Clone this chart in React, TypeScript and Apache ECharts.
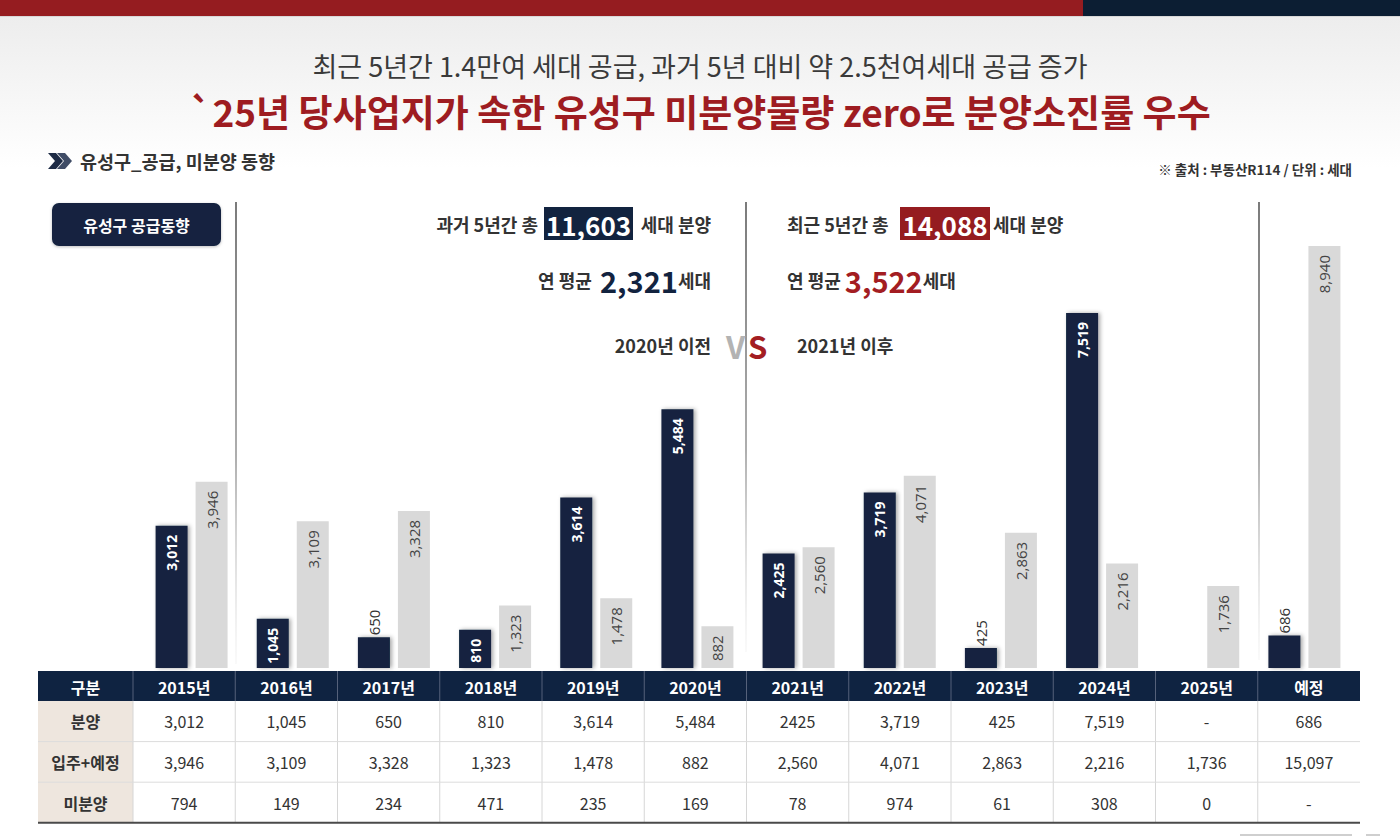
import React, { useEffect, useRef } from 'react';
import * as echarts from 'echarts';

// Yuseong-gu supply trend (units)
const categories = ['2015년', '2016년', '2017년', '2018년', '2019년', '2020년', '2021년', '2022년', '2023년', '2024년', '2025년', '예정'];
const saleValues: (number | null)[] = [3012, 1045, 650, 810, 3614, 5484, 2425, 3719, 425, 7519, null, 686];
const moveInValues: number[] = [3946, 3109, 3328, 1323, 1478, 882, 2560, 4071, 2863, 2216, 1736, 8940];

// Table rows under the chart
const tableHeader = '구분';
const rowNames = ['분양', '입주+예정', '미분양'];
const saleTexts = ['3,012', '1,045', '650', '810', '3,614', '5,484', '2425', '3,719', '425', '7,519', '-', '686'];
const moveInTexts = ['3,946', '3,109', '3,328', '1,323', '1,478', '882', '2,560', '4,071', '2,863', '2,216', '1,736', '15,097'];
const unsoldTexts = ['794', '149', '234', '471', '235', '169', '78', '974', '61', '308', '0', '-'];

// Period summaries
const pastTotal = '11,603';
const recentTotal = '14,088';
const pastAverage = '2,321';
const recentAverage = '3,522';

const KR = "'Noto Sans CJK KR', 'Noto Sans', sans-serif";
const NUM = "'Open Sans', 'Noto Sans', sans-serif";
const NAVY = '#12233f';
const RED = '#9e1c21';
const GRAY_BAR = '#d9d9d9';

const fmt = (v: any) => (v === null || v === undefined || v === '-' ? '' : Number(v).toLocaleString('en-US'));

function txt(text: string, x: number, y: number, align: string, font: string, fill: string) {
  return { type: 'text', style: { text, x, y, align, verticalAlign: 'middle', font, fill } };
}

function buildTable(): any[] {
  const els: any[] = [];
  const left = 38;
  const firstW = 95;
  const colW = 102.25;
  const right = left + firstW + colW * categories.length;
  const headTop = 671;
  const headH = 30;
  const rowH = 40.6;
  const rows = [saleTexts, moveInTexts, unsoldTexts];

  els.push({ type: 'rect', shape: { x: left, y: headTop, width: right - left, height: headH }, style: { fill: '#0f2341' } });
  els.push({ type: 'rect', shape: { x: left, y: headTop + headH, width: firstW, height: rowH * 3 }, style: { fill: '#eee6de' } });
  const headers = [tableHeader, ...categories];
  headers.forEach((h, i) => {
    const x0 = i === 0 ? left : left + firstW + colW * (i - 1);
    const w = i === 0 ? firstW : colW;
    els.push(txt(h, x0 + w / 2, headTop + headH / 2 + 1, 'center', `bold 16px ${KR}`, '#fff'));
    if (i > 0) {
      els.push({ type: 'line', shape: { x1: x0, y1: headTop, x2: x0, y2: headTop + headH }, style: { stroke: '#55617a', lineWidth: 1 } });
      els.push({ type: 'line', shape: { x1: x0, y1: headTop + headH, x2: x0, y2: headTop + headH + rowH * 3 }, style: { stroke: '#d6d6d6', lineWidth: 1 } });
    }
  });
  rows.forEach((texts, r) => {
    const y0 = headTop + headH + rowH * r;
    if (r > 0) {
      els.push({ type: 'line', shape: { x1: left, y1: y0, x2: right, y2: y0 }, style: { stroke: '#dcdcdc', lineWidth: 1 } });
    }
    els.push(txt(rowNames[r], left + firstW / 2, y0 + rowH / 2, 'center', `bold 16px ${KR}`, '#333'));
    texts.forEach((t, i) => {
      els.push(txt(t, left + firstW + colW * i + colW / 2, y0 + rowH / 2, 'center', `16px ${KR}`, '#333'));
    });
  });
  const bottom = headTop + headH + rowH * 3;
  els.push({ type: 'line', shape: { x1: left, y1: bottom, x2: right, y2: bottom }, style: { stroke: '#4a4a4a', lineWidth: 2 } });
  return els;
}

function divider(x: number, y1: number, y2: number) {
  return {
    type: 'rect',
    shape: { x: x - 0.6, y: y1, width: 1.2, height: y2 - y1 },
    style: {
      fill: new echarts.graphic.LinearGradient(0, 0, 0, 1, [
        { offset: 0, color: '#222' },
        { offset: 0.55, color: '#777' },
        { offset: 1, color: 'rgba(210,210,210,0.2)' },
      ]),
    },
  };
}

function buildDecor(): any[] {
  const els: any[] = [];
  els.push({
    type: 'rect', z: -10,
    shape: { x: 0, y: 0, width: 1400, height: 839 },
    style: {
      fill: new echarts.graphic.LinearGradient(0, 0, 0, 1, [
        { offset: 0, color: '#ebebeb' },
        { offset: 0.2, color: '#ffffff' },
        { offset: 1, color: '#ffffff' },
      ]),
    },
  });
  els.push({ type: 'rect', shape: { x: 0, y: 0, width: 1083, height: 16 }, style: { fill: '#951c20' } });
  els.push({ type: 'rect', shape: { x: 1083, y: 0, width: 317, height: 16 }, style: { fill: '#0c1e33' } });
  els.push({ type: 'line', shape: { x1: 0, y1: 16.5, x2: 1400, y2: 16.5 }, style: { stroke: '#d8d8d8', lineWidth: 1 } });

  // headlines
  els.push(txt('최근 5년간 1.4만여 세대 공급, 과거 5년 대비 약 2.5천여세대 공급 증가', 700, 65, 'center', `27px ${KR}`, '#3a3a3a'));
  els.push(txt('`25년 당사업지가 속한 유성구 미분양물량 zero로 분양소진률 우수', 700, 111, 'center', `bold 37px ${KR}`, RED));

  // section heading with chevrons
  els.push({ type: 'polygon', shape: { points: [[48, 153], [56, 153], [63, 161], [56, 169], [48, 169], [55, 161]] }, style: { fill: '#1d2b45' } });
  els.push({ type: 'polygon', shape: { points: [[57, 153], [65, 153], [72, 161], [65, 169], [57, 169], [64, 161]] }, style: { fill: '#3f4c66' } });
  els.push(txt('유성구_공급, 미분양 동향', 80, 161, 'left', `bold 18.5px ${KR}`, '#333'));
  els.push(txt('※ 출처 : 부동산R114 / 단위 : 세대', 1352, 169, 'right', `bold 13.5px ${KR}`, '#333'));

  // badge
  els.push({ type: 'rect', shape: { x: 52, y: 203, width: 169, height: 43, r: 7 }, style: { fill: '#13233f', shadowBlur: 3, shadowColor: 'rgba(0,0,0,0.25)', shadowOffsetY: 1 } });
  els.push(txt('유성구 공급동향', 136.5, 225, 'center', `bold 16px ${KR}`, '#fff'));

  // dividers
  els.push(divider(236, 202, 664));
  els.push(divider(746, 202, 652));
  els.push(divider(1259, 202, 660));

  const label = `bold 18px ${KR}`;
  const boxNum = `bold 26px ${KR}`;
  const richLabel = { fontFamily: KR, fontSize: 18, fontWeight: 'bold', fill: '#333' };
  const richNum = (fill: string) => ({ fontFamily: KR, fontSize: 29, fontWeight: 'bold', fill });

  // left comparison block (up to 2020)
  els.push(txt('과거 5년간 총', 538, 224, 'right', label, '#333'));
  els.push({ type: 'rect', shape: { x: 544, y: 207, width: 89, height: 33 }, style: { fill: NAVY } });
  els.push(txt(pastTotal, 588.5, 224, 'center', boxNum, '#fff'));
  els.push(txt('세대 분양', 711, 224, 'right', label, '#333'));
  els.push({
    type: 'text',
    style: {
      text: `{t|연 평균  }{n|${pastAverage}}{t|세대}`, x: 711, y: 280, align: 'right', verticalAlign: 'middle',
      rich: { t: richLabel, n: richNum(NAVY) },
    },
  });
  els.push(txt('2020년 이전', 711, 345, 'right', label, '#333'));

  // VS mark
  els.push(txt('V', 726, 345, 'left', `bold 31px ${KR}`, '#b3b3b3'));
  els.push(txt('S', 748, 345, 'left', `bold 31px ${KR}`, '#a31d22'));

  // right comparison block (from 2021)
  els.push(txt('최근 5년간 총', 787, 224, 'left', label, '#333'));
  els.push({ type: 'rect', shape: { x: 900, y: 207, width: 90, height: 33 }, style: { fill: '#951c20' } });
  els.push(txt(recentTotal, 945, 224, 'center', boxNum, '#fff'));
  els.push(txt('세대 분양', 993, 224, 'left', label, '#333'));
  els.push({
    type: 'text',
    style: {
      text: `{t|연 평균 }{n|${recentAverage}}{t|세대}`, x: 787, y: 280, align: 'left', verticalAlign: 'middle',
      rich: { t: richLabel, n: richNum('#a31d22') },
    },
  });
  els.push(txt('2021년 이후', 797, 345, 'left', label, '#333'));

  // footer marks
  els.push({ type: 'line', shape: { x1: 1240, y1: 835, x2: 1352, y2: 835 }, style: { stroke: '#cfcfcf', lineWidth: 2 } });
  els.push({ type: 'line', shape: { x1: 1366, y1: 835, x2: 1380, y2: 835 }, style: { stroke: '#cfcfcf', lineWidth: 2 } });
  return els;
}

export default function App() {
  const ref = useRef<HTMLDivElement>(null);

  useEffect(() => {
    if (!ref.current) return;
    const chart = echarts.init(ref.current, undefined, { renderer: 'svg' });

    const outsideLabel = { position: 'top', align: 'left', color: '#333', fontWeight: 'normal', fontSize: 15, distance: 2 };

    chart.setOption({
      animation: false,
      backgroundColor: '#fff',
      grid: { left: 141, top: 196, width: 1214, height: 472, containLabel: false },
      xAxis: {
        type: 'category',
        data: categories,
        axisLine: { show: false },
        axisTick: { show: false },
        axisLabel: { show: false },
      },
      yAxis: {
        type: 'value',
        min: 0,
        max: 10000,
        show: false,
        splitLine: { show: false },
      },
      series: [
        {
          name: '분양',
          type: 'bar',
          barWidth: 32,
          barGap: '25%',
          data: saleValues.map((v) => (v !== null && v < 700 ? { value: v, label: outsideLabel } : v)),
          itemStyle: { color: NAVY, shadowColor: 'rgba(0,0,0,0.35)', shadowBlur: 4, shadowOffsetX: 2 },
          label: {
            show: true,
            position: 'insideTop',
            rotate: 90,
            align: 'right',
            verticalAlign: 'middle',
            distance: 9,
            color: '#fff',
            fontFamily: NUM,
            fontSize: 14,
            fontWeight: 'bold',
            formatter: (p: any) => fmt(p.value),
          },
        },
        {
          name: '입주+예정',
          type: 'bar',
          barWidth: 32,
          data: moveInValues,
          itemStyle: { color: GRAY_BAR },
          label: {
            show: true,
            position: 'insideTop',
            rotate: 90,
            align: 'right',
            verticalAlign: 'middle',
            distance: 9,
            color: '#444',
            fontFamily: NUM,
            fontSize: 15,
            formatter: (p: any) => fmt(p.value),
          },
        },
      ],
      graphic: { elements: [...buildDecor(), ...buildTable()] },
    });

    return () => chart.dispose();
  }, []);

  return <div ref={ref} style={{ position: 'fixed', left: 0, top: 0, width: 1400, height: 839 }} />;
}
